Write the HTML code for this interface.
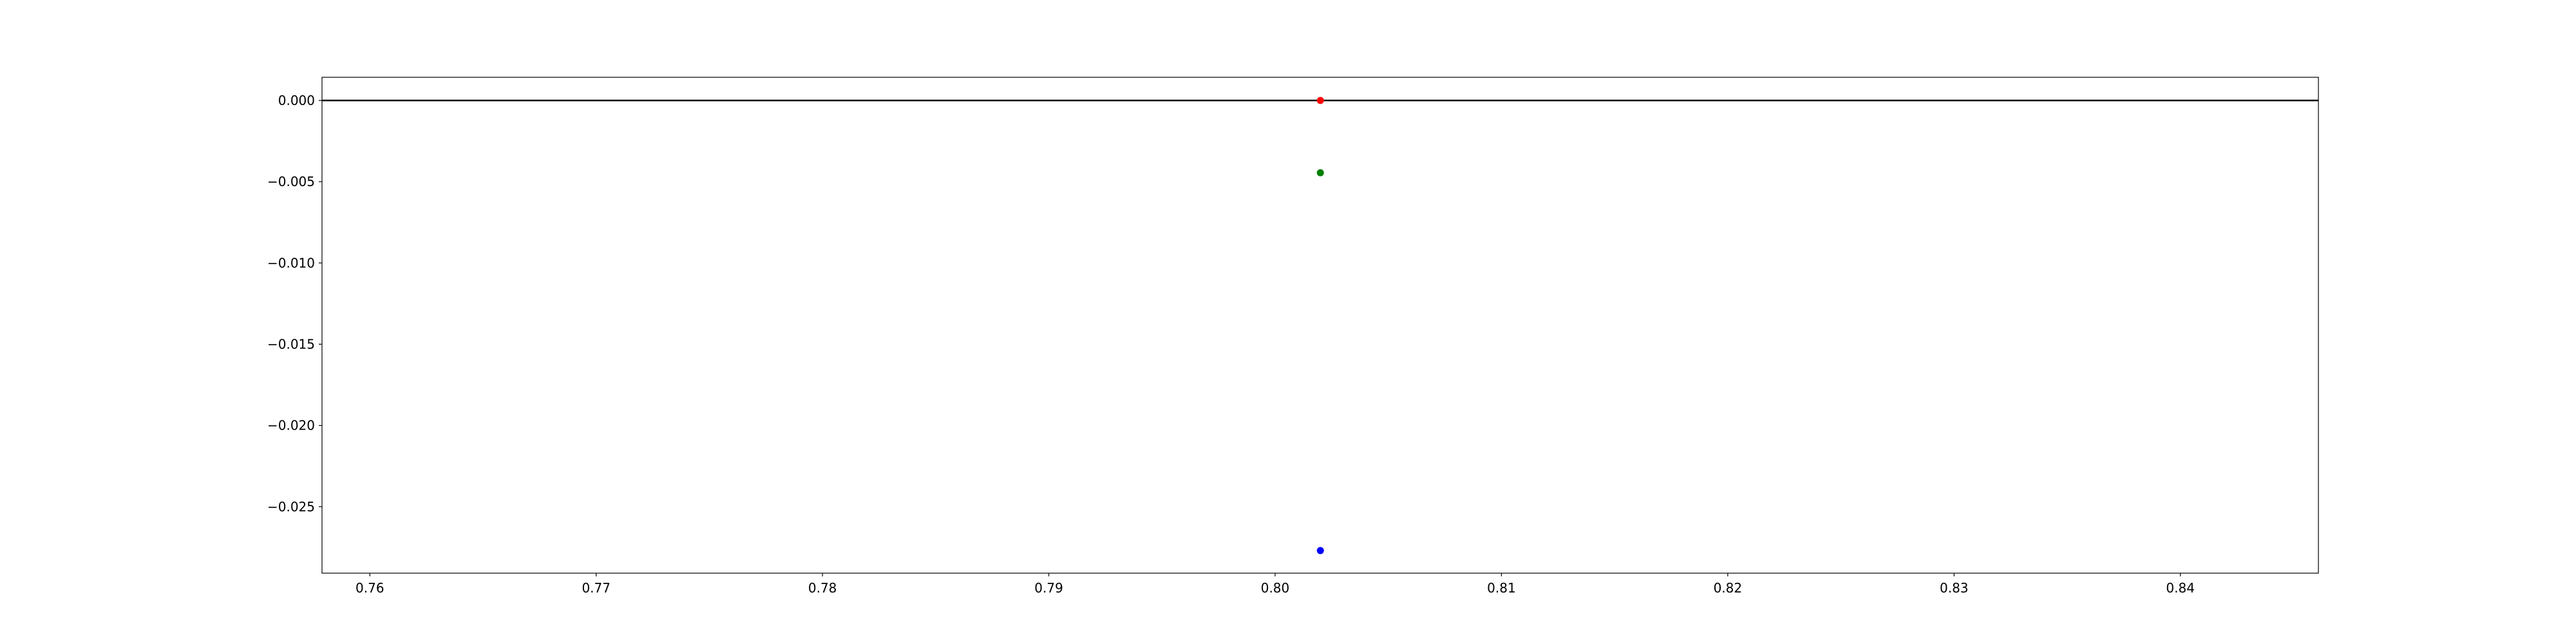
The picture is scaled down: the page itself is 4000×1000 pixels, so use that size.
<!DOCTYPE html>
<html><head><meta charset="utf-8"><style>
html,body{margin:0;padding:0;background:#fff;}
svg{display:block;}
text{font-family:"DejaVu Sans","Liberation Sans",sans-serif;font-size:20px;fill:#000;}
</style></head><body>
<svg id="chart" width="4000" height="1000">
<rect width="4000" height="1000" fill="#fff"/>
<g id="plot"></g>
</svg>
<script>
const xTicks = [0.76, 0.77, 0.78, 0.79, 0.80, 0.81, 0.82, 0.83, 0.84];
const xTickLabels = ["0.76","0.77","0.78","0.79","0.80","0.81","0.82","0.83","0.84"];
const yTicks = [0, -0.005, -0.010, -0.015, -0.020, -0.025];
const yTickLabels = ["0.000","\u22120.005","\u22120.010","\u22120.015","\u22120.020","\u22120.025"];
const pointX = [0.802, 0.802, 0.802];
const pointY = [0.0, -0.00445, -0.0277];
const pointColors = ["red", "green", "blue"];
const pointNames = ["point-red", "point-green", "point-blue"];
const refLineY = [0];

const L=500,R=3600,T=120,B=890;
const xMin=0.757886,xMax=0.846098,yMin=-0.02909,yMax=0.001426;
const sx=v=>L+(v-xMin)/(xMax-xMin)*(R-L);
const sy=v=>B-(v-yMin)/(yMax-yMin)*(B-T);
const NS="http://www.w3.org/2000/svg";
const g=document.getElementById('plot');
function mk(tag,attrs){const e=document.createElementNS(NS,tag);for(const k in attrs)e.setAttribute(k,attrs[k]);g.appendChild(e);return e;}

refLineY.forEach(v=>{
  const l=mk('line',{x1:L,x2:R,y1:sy(v),y2:sy(v),stroke:'#000','stroke-width':2.5});
  
  
});
pointX.forEach((v,i)=>{
  const c=mk('circle',{cx:sx(v),cy:sy(pointY[i]),r:5.5,fill:pointColors[i]});
  
  
});
const frame=mk('rect',{x:L,y:T,width:R-L,height:B-T,fill:'none',stroke:'#000','stroke-width':1.2});



xTicks.forEach((v,i)=>{
  const x=sx(v);
  const t=mk('line',{x1:x,x2:x,y1:B,y2:B+5,stroke:'#000','stroke-width':1.2});
  
  
  const lb=mk('text',{x:x,y:B+30,'text-anchor':'middle'});
  lb.textContent=xTickLabels[i];
  
  
});
yTicks.forEach((v,i)=>{
  const y=sy(v);
  const t=mk('line',{x1:L-5,x2:L,y1:y,y2:y,stroke:'#000','stroke-width':1.2});
  
  
  const lb=mk('text',{x:L-11,y:y+7,'text-anchor':'end'});
  lb.textContent=yTickLabels[i];
  
  
});
</script>
</body></html>
